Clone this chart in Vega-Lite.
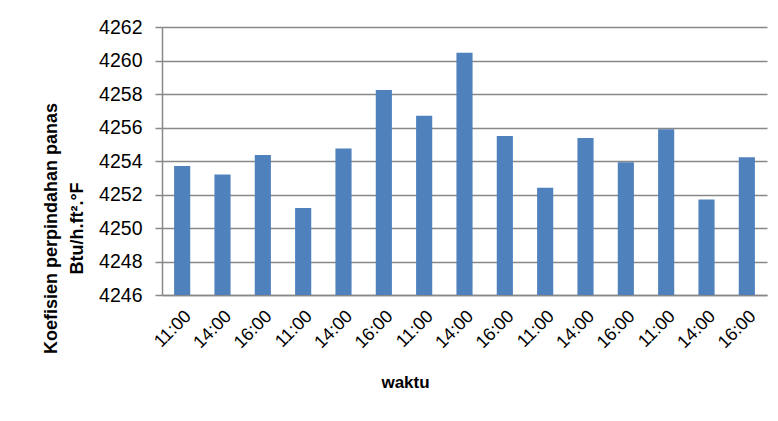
{
  "$schema": "https://vega.github.io/schema/vega-lite/v6.json",
  "width": 605,
  "height": 268,
  "autosize": {"type": "none"},
  "padding": {"left": 162, "top": 27, "right": 11, "bottom": 126},
  "background": "white",
  "config": {"view": {"stroke": null}, "font": "Liberation Sans"},
  "data": {
    "values": [
      {"slot": "01|11:00", "value": 4253.7},
      {"slot": "02|14:00", "value": 4253.2},
      {"slot": "03|16:00", "value": 4254.36},
      {"slot": "04|11:00", "value": 4251.2},
      {"slot": "05|14:00", "value": 4254.75},
      {"slot": "06|16:00", "value": 4258.24},
      {"slot": "07|11:00", "value": 4256.7},
      {"slot": "08|14:00", "value": 4260.47},
      {"slot": "09|16:00", "value": 4255.5},
      {"slot": "10|11:00", "value": 4252.4},
      {"slot": "11|14:00", "value": 4255.37},
      {"slot": "12|16:00", "value": 4253.92},
      {"slot": "13|11:00", "value": 4255.9},
      {"slot": "14|14:00", "value": 4251.7},
      {"slot": "15|16:00", "value": 4254.22}
    ]
  },
  "mark": {"type": "bar", "color": "#4f81bd", "clip": true},
  "encoding": {
    "x": {
      "field": "slot",
      "type": "ordinal",
      "sort": null,
      "scale": {"paddingInner": 0.6, "paddingOuter": 0.3},
      "axis": {
        "title": "waktu",
        "titleFont": "Liberation Sans",
        "titleFontSize": 17,
        "titleFontWeight": "bold",
        "titleColor": "#000",
        "titleX": 243,
        "titleY": 79,
        "titleBaseline": "top",
        "titleAlign": "center",
        "labelExpr": "split(datum.label, '|')[1]",
        "labelAngle": -45,
        "labelFontSize": 18,
        "labelColor": "#000",
        "labelPadding": 12,
        "ticks": false,
        "domainColor": "#888888",
        "domainWidth": 1.5,
        "grid": false
      }
    },
    "y": {
      "field": "value",
      "type": "quantitative",
      "scale": {"domain": [4246, 4262], "zero": false, "nice": false},
      "axis": {
        "title": ["Koefisien perpindahan panas", "Btu/h.ft².°F"],
        "titleFont": "Liberation Sans",
        "titleFontSize": 18,
        "titleFontWeight": "bold",
        "titleColor": "#000",
        "titleAngle": -90,
        "titleX": -120,
        "titleY": 201,
        "titleAlign": "center",
        "titleBaseline": "top",
        "titleLineHeight": 26,
        "values": [4246, 4248, 4250, 4252, 4254, 4256, 4258, 4260, 4262],
        "format": "d",
        "labelFontSize": 19.5,
        "labelColor": "#000",
        "labelPadding": 13,
        "tickSize": 7,
        "tickColor": "#888888",
        "tickWidth": 1.5,
        "domainColor": "#888888",
        "domainWidth": 1.5,
        "grid": true,
        "gridColor": "#888888",
        "gridWidth": 1.5
      }
    }
  }
}
